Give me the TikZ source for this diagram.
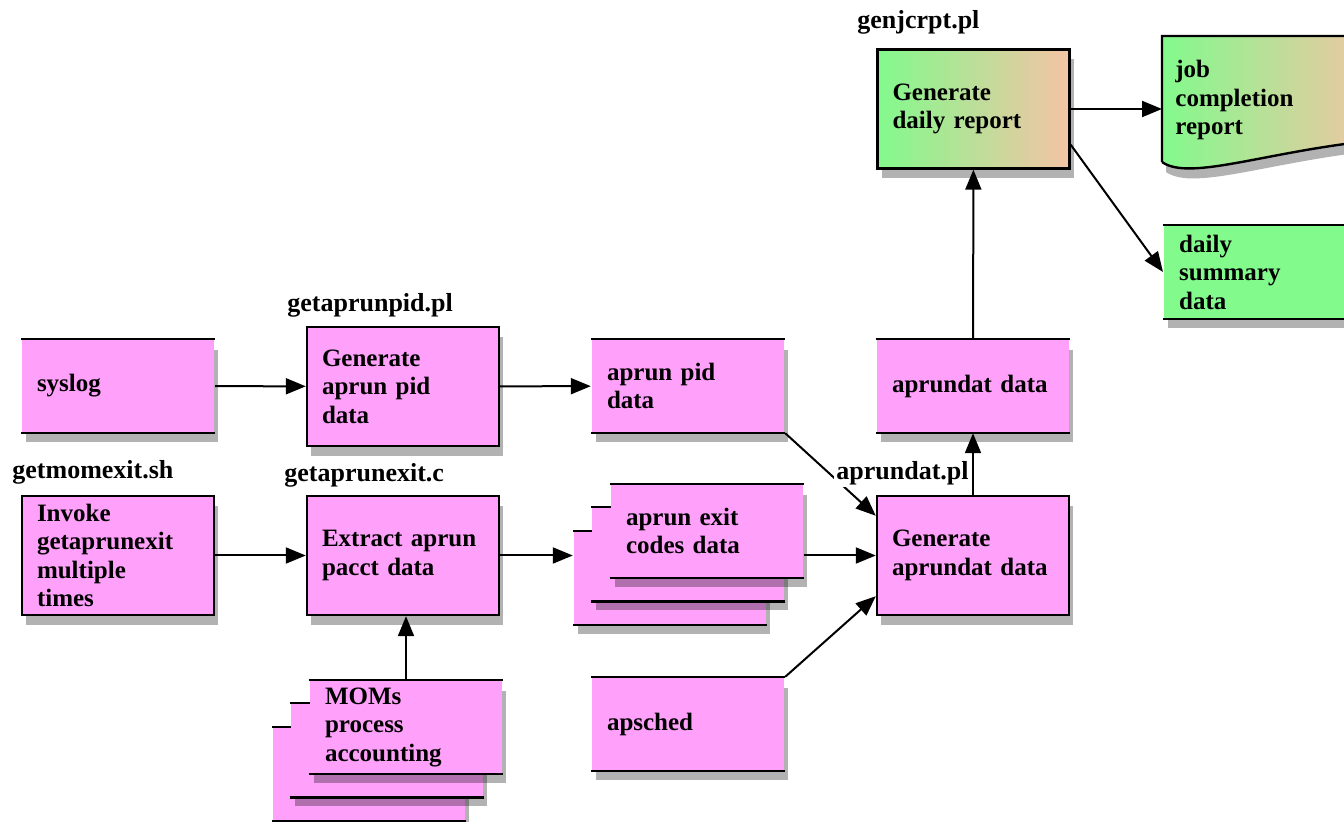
\documentclass[tikz,border=0pt]{standalone}
\usepackage{fontspec}
\setmainfont{Liberation Serif}
\usetikzlibrary{arrows.meta,shadows}
\definecolor{boxpink}{RGB}{255,160,250}
\definecolor{docgreen}{RGB}{130,250,140}
\definecolor{docpeach}{RGB}{245,195,165}
\begin{document}
\begin{tikzpicture}[x=0.5pt,y=-0.5pt,
  boxshadow/.style={drop shadow={shadow xshift=2pt,shadow yshift=-5pt,opacity=0.3,fill=black}},
  proc/.style={draw,line width=1.2pt,fill=boxpink,boxshadow,minimum width=96pt,minimum height=59.5pt,
    text width=81pt,inner xsep=7.5pt,inner ysep=1pt,align=left,font=\bfseries\fontsize{12.5}{14.25}\selectfont},
  datab/.style={proc,draw=none,minimum height=46pt},
  rim/.style={line width=1.2pt},
  lbl/.style={anchor=west,inner sep=1pt,font=\bfseries\fontsize{13}{15}\selectfont},
  flow/.style={line width=1pt,-{Triangle[length=10pt,width=8pt]}}]
\useasboundingbox (0,0) rectangle (1344,822);
\clip (0,0) rectangle (1344,822);

\node[datab] (syslog) at (118,386) {syslog};
\node[proc] (pidgen) at (403,386.5) {Generate\\aprun pid\\data};
\node[datab] (piddata) at (688,386) {aprun pid\\data};
\node[datab] (aprdata) at (973,386) {aprundat data};

\node[proc] (invoke) at (118,555.5) {Invoke\\getaprunexit\\multiple\\times};
\node[proc] (extract) at (403,555.5) {Extract aprun\\pacct data};
\node[proc] (genapr) at (973,555.5) {Generate\\aprundat data};

\foreach \s/\x/\y in {exitb2/670/578,exitb1/688/554.5}{
  \node[datab] (\s) at (\x,\y) {};
  \draw[rim] (\s.north west) -- (\s.north east) (\s.south west) -- (\s.south east);
}
\node[datab] (exitdata) at (707,531) {aprun exit\\codes data};

\foreach \s/\x/\y in {momb2/369/774,momb1/387/750.5}{
  \node[datab] (\s) at (\x,\y) {};
  \draw[rim] (\s.north west) -- (\s.north east) (\s.south west) -- (\s.south east);
}
\node[datab] (moms) at (406,727) {MOMs\\process\\accounting};

\node[datab] (apsched) at (688,724) {apsched};

\node[proc,left color=docgreen,right color=docpeach] (genrep) at (973.5,109) {Generate\\daily report};

\draw[rim,left color=docgreen,right color=docpeach,boxshadow]
  (1162,162) -- (1162,36) -- (1380,36) -- (1380,140)
  .. controls (1270,150) and (1190,182) .. (1162,162);
\node[anchor=west,text width=90pt,inner xsep=6.5pt,align=left,
  font=\bfseries\fontsize{12.5}{14.25}\selectfont] (jobrep) at (1162,100) {job\\completion\\report};

\node[datab,fill=docgreen,anchor=west] (summary) at (1163,272) {daily\\summary\\data};

\foreach \n in {syslog,piddata,aprdata,exitdata,moms,apsched,summary}
  \draw[rim] (\n.north west) -- (\n.north east) (\n.south west) -- (\n.south east);

\draw[flow] (syslog) -- (pidgen);
\draw[flow] (pidgen) -- (piddata);
\draw[flow] (invoke) -- (extract);
\draw[flow] (extract) -- (extract -| exitb2.west);
\draw[flow] (exitdata.east |- genapr) -- (genapr);
\draw[flow] (piddata.south east) -- ([yshift=-10.5pt]genapr.north west);
\draw[flow] (apsched.north east) -- ([yshift=10pt]genapr.south west);
\draw[flow] (moms.north) -- (moms.north |- extract.south);
\draw[flow] (genapr) -- (aprdata);
\draw[flow] (aprdata) -- (genrep);
\draw[flow] (genrep) -- (genrep -| jobrep.west);
\draw[flow] ([yshift=12.5pt]genrep.south east) -- (summary.west);

\node[lbl] (pidlbl) at (285,305) {getaprunpid.pl};
\node[lbl] (exitlbl) at (282,475) {getaprunexit.c};
\node[lbl] (momlbl) at (10,472) {getmomexit.sh};
\node[lbl,fill=white] (aprlbl) at (834,473) {aprundat.pl};
\node[lbl] (replbl) at (855,22) {genjcrpt.pl};
\end{tikzpicture}
\end{document}
